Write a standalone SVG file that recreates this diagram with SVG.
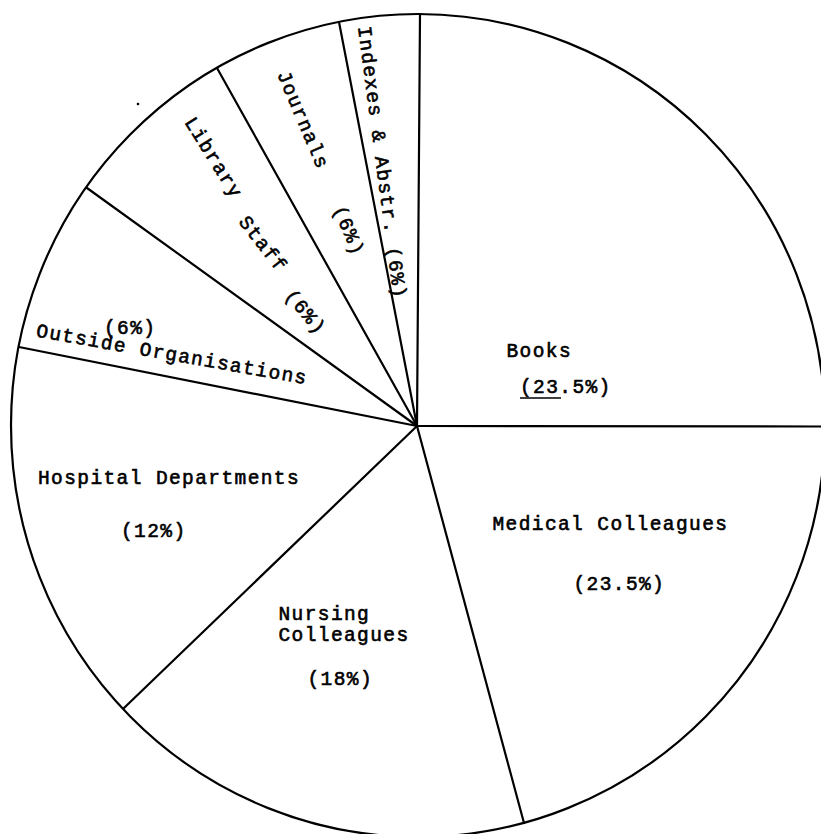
<svg xmlns="http://www.w3.org/2000/svg" width="821" height="834" viewBox="0 0 821 834">
  <style>
    .outline { fill: #ffffff; stroke: #000000; stroke-width: 2.2; }
    .radius { fill: none; stroke: #000000; stroke-width: 2.2; stroke-linecap: round; }
    .label { font-family: "Liberation Mono", "Courier New", monospace; font-size: 19.5px; letter-spacing: 1.4px; fill: #000000; stroke: #000000; stroke-width: 0.6; }
    .rule { stroke: #000000; stroke-width: 1.6; }
  </style>
  <rect x="0" y="0" width="821" height="834" fill="#ffffff"/>

  <!-- pie outline and slice boundaries -->
  <g id="pie">
    <ellipse class="outline" cx="418" cy="425.5" rx="407" ry="411.5"/>
    <g id="slice-edges">
      <line class="radius" x1="417" y1="426" x2="420" y2="14"/>
      <line class="radius" x1="417" y1="426" x2="339" y2="22"/>
      <line class="radius" x1="417" y1="426" x2="217" y2="68"/>
      <line class="radius" x1="417" y1="426" x2="87" y2="188"/>
      <line class="radius" x1="417" y1="426" x2="19" y2="347"/>
      <line class="radius" x1="417" y1="426" x2="124" y2="708"/>
      <line class="radius" x1="417" y1="426" x2="524" y2="823"/>
      <line class="radius" x1="417" y1="426" x2="821" y2="426.5"/>
    </g>
    <circle cx="138" cy="104" r="1.3" fill="#000000"/>
  </g>

  <!-- slice labels -->
  <g id="books">
    <text class="label" x="506.5" y="357">Books</text>
    <text class="label" x="520" y="393">(23.5%)</text>
    <line class="rule" x1="520" y1="398" x2="561" y2="398"/>
  </g>

  <g id="medical-colleagues">
    <text class="label" x="492.5" y="529.5">Medical Colleagues</text>
    <text class="label" x="573.5" y="589.5">(23.5%)</text>
  </g>

  <g id="nursing-colleagues">
    <text class="label" x="278.5" y="620">Nursing</text>
    <text class="label" x="278.5" y="641">Colleagues</text>
    <text class="label" x="307.5" y="685">(18%)</text>
  </g>

  <g id="hospital-departments">
    <text class="label" x="38" y="483.5">Hospital Departments</text>
    <text class="label" x="121" y="537">(12%)</text>
  </g>

  <g id="outside-organisations">
    <text class="label" x="104" y="334">(6%)</text>
    <text class="label" transform="translate(35.5,336.5) rotate(10)" letter-spacing="1.7">Outside Organisations</text>
  </g>

  <g id="library-staff">
    <text class="label" transform="translate(184,122) rotate(58)">Library</text>
    <text class="label" transform="translate(238,222) rotate(52)">Staff</text>
    <text class="label" transform="translate(284,296) rotate(50)">(6%)</text>
  </g>

  <g id="journals">
    <text class="label" transform="translate(277,74) rotate(67)">Journals</text>
    <text class="label" transform="translate(333,209) rotate(67)">(6%)</text>
  </g>

  <g id="indexes-abstracts">
    <text class="label" transform="translate(358,27) rotate(82.5)" letter-spacing="0.9">Indexes &amp; Abstr. (6%)</text>
  </g>
</svg>
